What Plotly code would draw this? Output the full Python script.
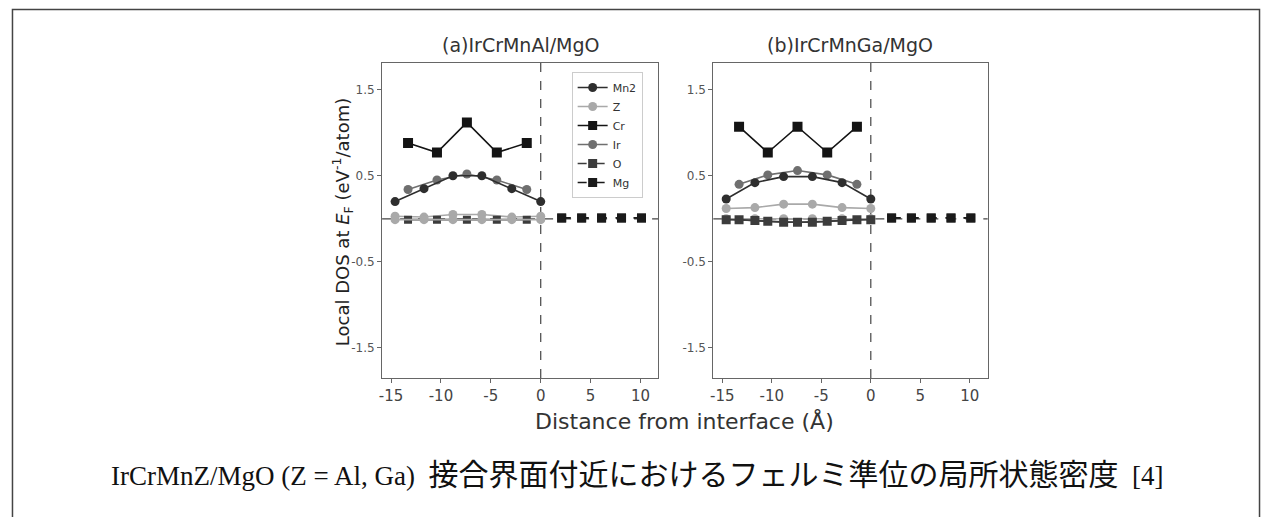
import plotly.graph_objects as go

W, H = 1269, 517

# layer positions (Angstrom)
x_mnz = [-14.6, -11.7, -8.8, -5.9, -2.9, 0.0]      # Mn2 / Z layers
x_ircr = [-13.3, -10.4, -7.4, -4.4, -1.4]         # Ir / Cr layers
x_mgo = [2.1, 4.1, 6.1, 8.1, 10.1]                # MgO layers

# (a) IrCrMnAl/MgO
a_mn2 = [0.20, 0.35, 0.50, 0.50, 0.35, 0.20]
a_z = [0.03, 0.02, 0.05, 0.05, 0.02, 0.03]
a_cr = [0.88, 0.77, 1.12, 0.77, 0.88]
a_ir = [0.34, 0.45, 0.52, 0.45, 0.34]
a_mn2_dn = [-0.01, -0.01, -0.01, -0.01, -0.01, -0.01]
a_cr_dn = [-0.01, -0.01, -0.01, -0.01, -0.01]
a_o = [0.01, 0.01, 0.01, 0.01, 0.01]
a_mg = [0.01, 0.01, 0.01, 0.01, 0.01]

# (b) IrCrMnGa/MgO
b_mn2 = [0.23, 0.42, 0.49, 0.49, 0.42, 0.23]
b_z = [0.12, 0.13, 0.17, 0.17, 0.13, 0.12]
b_cr = [1.07, 0.77, 1.07, 0.77, 1.07]
b_ir = [0.40, 0.51, 0.56, 0.51, 0.40]
b_mn2_dn = [-0.01, -0.02, -0.04, -0.04, -0.02, -0.01]
b_z_dn = [0.0, 0.0, 0.0, 0.0, 0.0, 0.0]
b_cr_dn = [-0.01, -0.03, -0.04, -0.03, -0.01]
b_o = [0.01, 0.01, 0.01, 0.01, 0.01]
b_mg = [0.01, 0.01, 0.01, 0.01, 0.01]

titles = ["(a)IrCrMnAl/MgO", "(b)IrCrMnGa/MgO"]
yticks = [-1.5, -0.5, 0.5, 1.5]
xticks = [-15, -10, -5, 0, 5, 10]

C_MN2 = "#2e2e2e"
C_Z = "#a9a9a9"
C_CR = "#141414"
C_IR = "#6f6f6f"
C_O = "#3c3c3c"
C_MG = "#1a1a1a"

fig = go.Figure()


def add(x, y, name, color, symbol, dash, axis, show, lw=1.6, size=9):
    fig.add_trace(go.Scatter(
        x=x, y=y, name=name, mode="lines+markers",
        line=dict(color=color, width=lw, dash=dash),
        marker=dict(color=color, symbol=symbol, size=size),
        xaxis="x" + axis, yaxis="y" + axis, showlegend=show, legendgroup=name))


# panel a
add(x_mnz, a_z, "Z", C_Z, "circle", "solid", "", False)
add(x_ircr, a_cr_dn, "Cr", C_O, "square", "solid", "", False, size=8)
add(x_mnz, a_mn2_dn, "Mn2", C_Z, "circle", "solid", "", False)
add(x_mgo, a_o, "O", C_O, "square", "dash", "", False, size=9)
add(x_mgo, a_mg, "Mg", C_MG, "square", "dash", "", False, size=9)
add(x_ircr, a_ir, "Ir", C_IR, "circle", "solid", "", False)
add(x_mnz, a_mn2, "Mn2", C_MN2, "circle", "solid", "", False)
add(x_ircr, a_cr, "Cr", C_CR, "square", "solid", "", False, size=10)

# panel b
add(x_mnz, b_z_dn, "Z", C_Z, "circle", "solid", "2", False)
add(x_ircr, b_cr_dn, "Cr", C_O, "square", "solid", "2", False, size=9)
add(x_mnz, b_mn2_dn, "Mn2", C_O, "square", "solid", "2", False, size=9)
add(x_mgo, b_o, "O", C_O, "square", "dash", "2", False, size=9)
add(x_mgo, b_mg, "Mg", C_MG, "square", "dash", "2", False, size=9)
add(x_mnz, b_z, "Z", C_Z, "circle", "solid", "2", False)
add(x_ircr, b_ir, "Ir", C_IR, "circle", "solid", "2", False)
add(x_mnz, b_mn2, "Mn2", C_MN2, "circle", "solid", "2", False)
add(x_ircr, b_cr, "Cr", C_CR, "square", "solid", "2", False, size=10)

# legend-only entries (in the order of the reference legend)
for name, color, symbol, dash in [("Mn2", C_MN2, "circle", "solid"),
                                  ("Z", C_Z, "circle", "solid"),
                                  ("Cr", C_CR, "square", "solid"),
                                  ("Ir", C_IR, "circle", "solid"),
                                  ("O", C_O, "square", "dash"),
                                  ("Mg", C_MG, "square", "dash")]:
    fig.add_trace(go.Scatter(
        x=[None], y=[None], name=name, mode="lines+markers",
        line=dict(color=color, width=1.6, dash=dash),
        marker=dict(color=color, symbol=symbol, size=9),
        showlegend=True))

yr = [-1.85, 1.81]
xr = [-15.9, 11.8]
ydom = [1 - 378 / H, 1 - 63 / H]
yfont = dict(family="DejaVu Sans", size=12, color="#555555")
xfont = dict(family="DejaVu Sans", size=15, color="#444444")

common_x = dict(range=xr, tickmode="array", tickvals=xticks,
                ticktext=[str(v) for v in xticks], showgrid=False, zeroline=False,
                showline=True, mirror=True, linecolor="#666666", linewidth=1,
                ticks="outside", ticklen=4, tickcolor="#666666", tickfont=xfont)
common_y = dict(range=yr, tickmode="array", tickvals=yticks,
                ticktext=[str(v) for v in yticks], showgrid=False, zeroline=False,
                showline=True, mirror=True, linecolor="#666666", linewidth=1,
                ticks="outside", ticklen=4, tickcolor="#666666", tickfont=yfont)

fig.update_layout(
    width=W, height=H,
    margin=dict(l=0, r=0, t=0, b=0),
    paper_bgcolor="white", plot_bgcolor="white",
    xaxis=dict(domain=[380 / W, 657 / W], anchor="y", **common_x),
    yaxis=dict(domain=ydom, anchor="x", **common_y),
    xaxis2=dict(domain=[712 / W, 987 / W], anchor="y2", **common_x),
    yaxis2=dict(domain=ydom, anchor="x2", **common_y),
    legend=dict(x=570 / W, y=1 - 72 / H, xanchor="left", yanchor="top",
                bgcolor="rgba(255,255,255,0.85)", bordercolor="#cccccc",
                borderwidth=1, font=dict(family="DejaVu Sans", size=11, color="#333333"),
                tracegroupgap=0),
)

# reference lines at zero
for xa, ya in [("x", "y"), ("x2", "y2")]:
    fig.add_shape(type="line", xref=xa, yref=ya + " domain", x0=0, x1=0, y0=0, y1=1,
                  line=dict(color="#444444", width=1.2, dash="dash"), layer="below")
    fig.add_shape(type="line", xref=xa + " domain", yref=ya, x0=0, x1=1, y0=0, y1=0,
                  line=dict(color="#444444", width=1.2, dash="dash"), layer="below")

# outer frame
fig.add_shape(type="rect", xref="paper", yref="paper", x0=9.5 / W, x1=1259.5 / W,
              y0=-0.2, y1=1 - 9.5 / H, line=dict(color="#444444", width=1.5))

ann = []
for i, t in enumerate(titles):
    xc = (380 + 657) / 2 / W if i == 0 else (712 + 987) / 2 / W
    ann.append(dict(text=t, x=xc, y=1 - 45 / H, xref="paper", yref="paper",
                    xanchor="center", yanchor="middle",
                    showarrow=False, font=dict(family="DejaVu Sans", size=19, color="#333333")))
ann.append(dict(text="Local DOS at <i>E</i><sub>F</sub> (eV<sup>-1</sup>/atom)",
                x=340 / W, y=1 - 222 / H, xref="paper", yref="paper", textangle=-90,
                xanchor="center", yanchor="middle",
                showarrow=False, font=dict(family="DejaVu Sans", size=18, color="#222222")))
ann.append(dict(text="Distance from interface (Å)", x=683 / W, y=1 - 421 / H,
                xref="paper", yref="paper", showarrow=False,
                xanchor="center", yanchor="middle",
                font=dict(family="DejaVu Sans", size=22, color="#333333")))
ann.append(dict(text="IrCrMnZ/MgO (Z = Al, Ga)  <span style='font-size:30px'>接合界面付近におけるフェルミ準位の局所状態密度</span>  [4]",
                x=636 / W, y=1 - 474 / H, xref="paper", yref="paper", showarrow=False,
                xanchor="center", yanchor="middle",
                font=dict(family="Liberation Serif, Noto Sans CJK JP", size=27, color="#111111")))
fig.update_layout(annotations=ann)

fig.write_html("out.html", config={"displayModeBar": False},
               post_script="document.body.style.margin='0';")
